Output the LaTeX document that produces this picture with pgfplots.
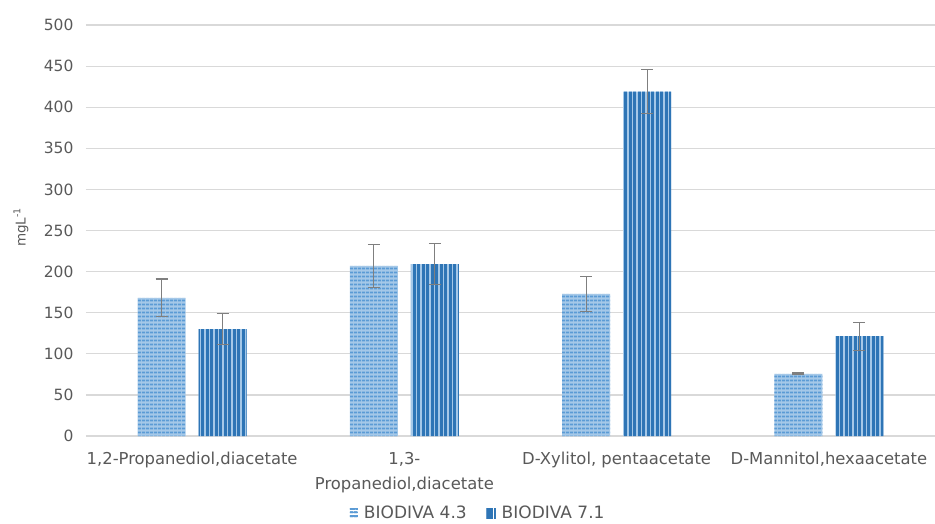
\documentclass[border=0pt]{standalone}
\usepackage{pgfplots}
\pgfplotsset{compat=1.18}
\usepackage{pgfplotstable}
\usepackage{fontspec}
\setmainfont{DejaVu Sans}
\usetikzlibrary{patterns.meta}
\definecolor{cA}{HTML}{5B9BD5}
\definecolor{cB}{HTML}{2E75B6}
\definecolor{txt}{HTML}{595959}
\definecolor{grd}{HTML}{D9D9D9}
\definecolor{errc}{HTML}{7F7F7F}
\pgfplotstableread{
x y e
0 168 23
1 207 26
2 173 21
3 75.5 1.2
}\tA
\pgfplotstableread{
x y e
0 130 18.5
1 209 25
2 419 27
3 121.5 17
}\tB
\begin{document}
\begin{tikzpicture}
\useasboundingbox (-86pt,-87pt) rectangle (849pt,436pt);
\begin{axis}[
  at={(0pt,0pt)}, anchor=south west,
  scale only axis, width=849pt, height=411pt,
  ymin=0, ymax=500, ytick distance=50,
  xmin=-0.5, xmax=3.5,
  xtick={0,1,2,3},
  xticklabels={{1,2-Propanediol,diacetate},{1,3-\\Propanediol,diacetate},{D-Xylitol, pentaacetate},{D-Mannitol,hexaacetate}},
  xticklabel style={align=center, font=\fontsize{16.4}{25}\selectfont, text=txt, yshift=-13pt},
  yticklabel style={font=\fontsize{15.5}{18}\selectfont, text=txt, xshift=-9pt},
  /pgf/number format/assume math mode=true,
  major tick length=0pt,
  axis line style={draw=none},
  ymajorgrids, grid style={grd, line width=1.2pt},
  ylabel={mgL\textsuperscript{-1}},
  ylabel style={at={(axis description cs:-0.0766,0.508)}, anchor=center, font=\fontsize{13.5}{16}\selectfont, text=txt},
  ybar=13pt, bar width=48pt,
  legend columns=2,
  legend style={draw=none, at={(axis description cs:0.462,-0.188)}, anchor=center,
    font=\fontsize{17}{20}\selectfont, text=txt, /tikz/every even column/.append style={column sep=18pt},
    /tikz/every odd column/.append style={column sep=4pt}},
  error bars/error bar style={errc, line width=1.1pt},
  error bars/error mark options={rotate=90, mark size=6pt, errc, line width=1.1pt},
]
\addplot[draw=none, fill=cA!55!white, postaction={pattern={Lines[angle=0,distance=4pt,line width=2.2pt]}, pattern color=cA},
  legend image code/.code={\fill[white] (0pt,-5pt) rectangle (8pt,5pt); \fill[pattern={Lines[angle=0,distance=3.5pt,line width=1.2pt]}, pattern color=cA] (0pt,-5pt) rectangle (8pt,5pt);},
  error bars/.cd, y dir=both, y explicit]
  table[x=x, y=y, y error=e]{\tA};
\addlegendentry{BIODIVA 4.3}
\addplot[draw=none, fill=cA!55!white, postaction={pattern={Lines[angle=90,distance=4.5pt,line width=3pt]}, pattern color=cB},
  legend image code/.code={\fill[white] (0pt,-5pt) rectangle (9pt,5pt); \fill[pattern={Lines[angle=90,distance=3pt,line width=1.6pt]}, pattern color=cB] (0pt,-5pt) rectangle (9pt,5pt);},
  error bars/.cd, y dir=both, y explicit]
  table[x=x, y=y, y error=e]{\tB};
\addlegendentry{BIODIVA 7.1}
\end{axis}
\end{tikzpicture}
\end{document}
